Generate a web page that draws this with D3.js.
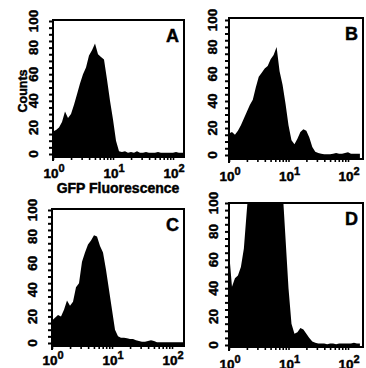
<!DOCTYPE html>
<html><head><meta charset="utf-8">
<script src="https://cdn.jsdelivr.net/npm/d3@7"></script>
<style>html,body{margin:0;padding:0;background:#fff;}svg{display:block;}
text{stroke:#000;stroke-width:0.45px;}</style>
</head><body>
<svg id="c" width="366" height="368"></svg>
<script>
// log10 fluorescence channel positions (decades)
const exps = [0,0.05,0.10,0.15,0.20,0.25,0.30,0.35,0.40,0.45,0.50,0.55,0.60,0.65,0.70,0.75,0.80,0.85,0.90,0.95,1.00,1.05,1.10,1.15,1.20,1.25,1.30,1.35,1.40,1.45,1.50,1.55,1.60,1.65,1.70,1.75,1.80,1.85,1.90,1.95,2.00,2.05,2.10,2.15,2.20];
const countsA = [17,18,20,24,32,27,30,37,45,53,60,65,74,78,83,75,73,71,56,40,26,10,2,1.5,2,1,1.5,1,2,1,1,1.5,1,1,1,1.5,1,1,1,1,1,1.5,1,1,1];
const countsB = [16,17,15,18,22,27,32,37,41,50,58,61,64,66,71,74,80,62,52,38,22,11,8,12,17,19,18,13,6,2.5,1.5,1,0.5,0.5,0.5,1,1.5,1,1,1.5,2,1,1,1,1];
const countsC = [17,19,21,20,25,32,28,31,42,45,61,68,74,77,81,80,73,68,55,40,25,10,5,4,4,3.5,3,3,2,1.5,1,1,1.5,2,1.5,0.5,0.5,0.5,0.5,0.5,0.5,0.5,0.5,0.5,0.5];
const countsD = [66,41,47,49,55,68,95,120,140,150,160,165,165,160,150,140,130,120,110,75,40,15,8,9,12,11,8,5,2.5,1.5,1,1,1,0.5,1,1,0.5,1,1,1,1,1,1.5,1,1];
const panelLetters = ["A","B","C","D"];
const yTickLabels = [0,20,40,60,80,100];
const xDecades = [0,1,2];
const yTitle = "Counts";
const xTitle = "GFP Fluorescence";

const panels = [
  {letter:panelLetters[0], counts:countsA, left:53, right:184, top:20, bottom:157, y0:154, y100:21, dec:60, ylx:33, xlb:178, showTitles:true},
  {letter:panelLetters[1], counts:countsB, left:229, right:363, top:18, bottom:159, y0:155, y100:20, dec:59.5, ylx:212, xlb:181},
  {letter:panelLetters[2], counts:countsC, left:52, right:184, top:209, bottom:346, y0:343, y100:210, dec:60, ylx:32, xlb:365},
  {letter:panelLetters[3], counts:countsD, left:229, right:363, top:203, bottom:347, y0:345, y100:203, dec:59.5, ylx:213, xlb:369}
];

const svg = d3.select("#c");
const FONT = "'Liberation Sans', Arial, Helvetica, sans-serif";

panels.forEach((p, i) => {
  const logMax = (p.right - p.left) / p.dec;
  const x = d3.scaleLog().domain([1, Math.pow(10, logMax)]).range([p.left, p.right]);
  const y = d3.scaleLinear().domain([0, 100]).range([p.y0, p.y100]);
  const g = svg.append("g");

  const clipId = "clip" + i;
  svg.append("defs").append("clipPath").attr("id", clipId)
    .append("rect").attr("x", p.left).attr("y", p.top)
    .attr("width", p.right - p.left).attr("height", p.bottom - p.top);

  const data = exps.map((e, k) => ({f: Math.pow(10, e), c: p.counts[k]}));
  const area = d3.area()
    .x(d => x(d.f))
    .y0(p.bottom)
    .y1(d => y(d.c))
    .curve(d3.curveLinear);
  g.append("path").datum(data).attr("d", area)
    .attr("fill", "#000").attr("clip-path", `url(#${clipId})`);

  // frame
  g.append("rect").attr("x", p.left).attr("y", p.top)
    .attr("width", p.right - p.left).attr("height", p.bottom - p.top)
    .attr("fill", "none").attr("stroke", "#000").attr("stroke-width", 2);
  g.append("line").attr("x1", p.left).attr("x2", p.left)
    .attr("y1", p.bottom).attr("y2", p.bottom + 4)
    .attr("stroke", "#000").attr("stroke-width", 2);

  // y axis
  const yAxis = d3.axisLeft(y).tickValues(d3.range(0, 101, 5)).tickSize(4).tickFormat("");
  const ya = g.append("g").attr("transform", `translate(${p.left},0)`).call(yAxis);
  ya.select(".domain").remove();
  ya.selectAll("line").attr("stroke-width", 2);
  yTickLabels.forEach(v => {
    g.append("text").attr("transform", `translate(${p.ylx},${y(v)}) rotate(-90)`)
      .attr("dy", "0.36em").attr("text-anchor", "middle")
      .attr("font-family", FONT).attr("font-weight", "bold").attr("font-size", 13.5)
      .text(v);
  });

  // x axis minor/major ticks
  const ticks = [];
  for (let d = 0; d <= 2; d++) for (let m = 1; m <= 9; m++) {
    const v = m * Math.pow(10, d);
    if (v <= x.domain()[1]) ticks.push(v);
  }
  const xa = g.append("g").attr("transform", `translate(0,${p.bottom})`)
    .call(d3.axisBottom(x).tickValues(ticks).tickSize(3).tickFormat(""));
  xa.select(".domain").remove();
  xa.selectAll("line").attr("stroke-width", 1.6);
  xDecades.forEach(dcd => {
    const t = g.append("text").attr("x", x(Math.pow(10, dcd)) + 1).attr("y", p.xlb)
      .attr("text-anchor", "middle").attr("font-family", FONT)
      .attr("font-weight", "bold").attr("font-size", 13.5);
    t.append("tspan").text("10");
    t.append("tspan").attr("dy", -6).attr("font-size", 11).text(dcd);
  });

  // panel letter
  g.append("text").attr("x", p.right - 5).attr("y", p.top + 22)
    .attr("text-anchor", "end").attr("font-family", FONT)
    .attr("font-weight", "bold").attr("font-size", 18).text(p.letter);

  if (p.showTitles) {
    g.append("text").attr("transform", `translate(22,${91}) rotate(-90)`)
      .attr("dy", "0.36em").attr("text-anchor", "middle")
      .attr("font-family", FONT).attr("font-weight", "bold").attr("font-size", 12.5)
      .text(yTitle);
    g.append("text").attr("x", 118).attr("y", 193)
      .attr("text-anchor", "middle").attr("font-family", FONT)
      .attr("font-weight", "bold").attr("font-size", 14).text(xTitle);
  }
});
</script>
</body></html>
